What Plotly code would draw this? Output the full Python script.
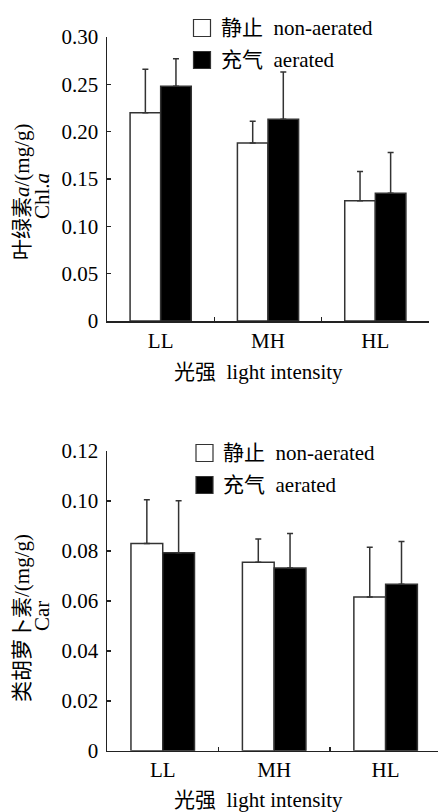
import plotly.graph_objects as go

# ---- data ----
categories = ["LL", "MH", "HL"]

chl_non = [0.220, 0.188, 0.127]
chl_non_err = [0.046, 0.023, 0.031]
chl_aer = [0.248, 0.213, 0.135]
chl_aer_err = [0.029, 0.050, 0.043]

car_non = [0.083, 0.0755, 0.0615]
car_non_err = [0.0175, 0.0093, 0.020]
car_aer = [0.0793, 0.0732, 0.0666]
car_aer_err = [0.0208, 0.0138, 0.0172]

chl_ticks = [0, 0.05, 0.10, 0.15, 0.20, 0.25, 0.30]
chl_ticktext = ["0", "0.05", "0.10", "0.15", "0.20", "0.25", "0.30"]
car_ticks = [0, 0.02, 0.04, 0.06, 0.08, 0.10, 0.12]
car_ticktext = ["0", "0.02", "0.04", "0.06", "0.08", "0.10", "0.12"]

legend_non = "静止\u00a0\u00a0non-aerated"
legend_aer = "充气\u00a0\u00a0aerated"
xtitle = "光强\u00a0\u00a0light intensity"
ytitle1_a = "叶绿素<i>a</i>/(mg/g)"
ytitle1_b = "Chl.<i>a</i>"
ytitle2_a = "类胡萝卜素/(mg/g)"
ytitle2_b = "Car"

# ---- styling ----
W, H = 438, 812
FONT = "Liberation Serif, Noto Sans CJK SC, serif"
LINE = "#222222"
EDGE = "#333333"


def px(x):
    return x / W


def py(y):
    return 1 - y / H


fig = go.Figure()


def add_bars(x, y, err, fill, xa, ya):
    fig.add_trace(go.Bar(
        x=x, y=y, xaxis=xa, yaxis=ya,
        marker=dict(color=fill, line=dict(color=EDGE, width=1.5)),
        error_y=dict(type="data", array=err, symmetric=False,
                     arrayminus=[0] * len(err), color=EDGE,
                     thickness=1.5, width=3),
        showlegend=False, hoverinfo="skip",
    ))


add_bars(categories, chl_non, chl_non_err, "white", "x", "y")
add_bars(categories, chl_aer, chl_aer_err, "black", "x", "y")
add_bars(categories, car_non, car_non_err, "white", "x2", "y2")
add_bars(categories, car_aer, car_aer_err, "black", "x2", "y2")

axis_common = dict(showline=True, linecolor=LINE, linewidth=1.5,
                   showgrid=False, zeroline=False, ticks="inside",
                   ticklen=4, tickwidth=1.5, tickcolor=LINE,
                   automargin=False,
                   tickfont=dict(family=FONT, size=21, color="black"))

fig.update_layout(
    width=W, height=H,
    margin=dict(l=0, r=0, t=0, b=0, pad=0),
    paper_bgcolor="white", plot_bgcolor="white",
    barmode="group", bargap=0.43, bargroupgap=0,
    showlegend=False,
    xaxis=dict(domain=[px(107), px(429)], type="category",
               range=[-0.5, 2.5], tickson="boundaries", anchor="y",
               ticklabelstandoff=0, **axis_common),
    yaxis=dict(domain=[py(321), py(37)], range=[0, 0.30],
               tickvals=chl_ticks, ticktext=chl_ticktext, anchor="x",
               ticklabelstandoff=3, **axis_common),
    xaxis2=dict(domain=[px(107), 1.0], type="category",
                range=[-0.5, 2.47], tickson="boundaries", anchor="y2",
                ticklabelstandoff=0, **axis_common),
    yaxis2=dict(domain=[py(750.7), py(451)], range=[0, 0.12],
                tickvals=car_ticks, ticktext=car_ticktext, anchor="x2",
                ticklabelstandoff=3, **axis_common),
)

shapes = []
annotations = []


def legend_block(x0, y_rows, size=17):
    for (yc, fill, text) in zip(y_rows, ["white", "black"], [legend_non, legend_aer]):
        shapes.append(dict(type="rect", xref="paper", yref="paper",
                           x0=px(x0), x1=px(x0 + size),
                           y0=py(yc + size / 2), y1=py(yc - size / 2),
                           fillcolor=fill, line=dict(color=EDGE, width=1.2)))
        annotations.append(dict(xref="paper", yref="paper", x=px(x0 + size + 8),
                                y=py(yc), xanchor="left", yanchor="middle",
                                text=text, showarrow=False,
                                font=dict(family=FONT, size=21, color="black")))


legend_block(193.5, [28, 60])
legend_block(196, [453, 485])


def text_ann(x, y, text, angle=0):
    annotations.append(dict(xref="paper", yref="paper", x=px(x), y=py(y),
                            xanchor="center", yanchor="middle", text=text,
                            textangle=angle, showarrow=False,
                            font=dict(family=FONT, size=21, color="black")))


text_ann(258, 372, xtitle)
text_ann(258, 800, xtitle)
text_ann(22, 192, ytitle1_a, -90)
text_ann(42, 196, ytitle1_b, -90)
text_ann(22, 618, ytitle2_a, -90)
text_ann(42, 616, ytitle2_b, -90)

fig.update_layout(shapes=shapes, annotations=annotations)

fig.write_html(
    "out.html",
    config={"displayModeBar": False, "staticPlot": True},
    post_script="document.body.style.margin='0';document.body.style.overflow='hidden';",
)
